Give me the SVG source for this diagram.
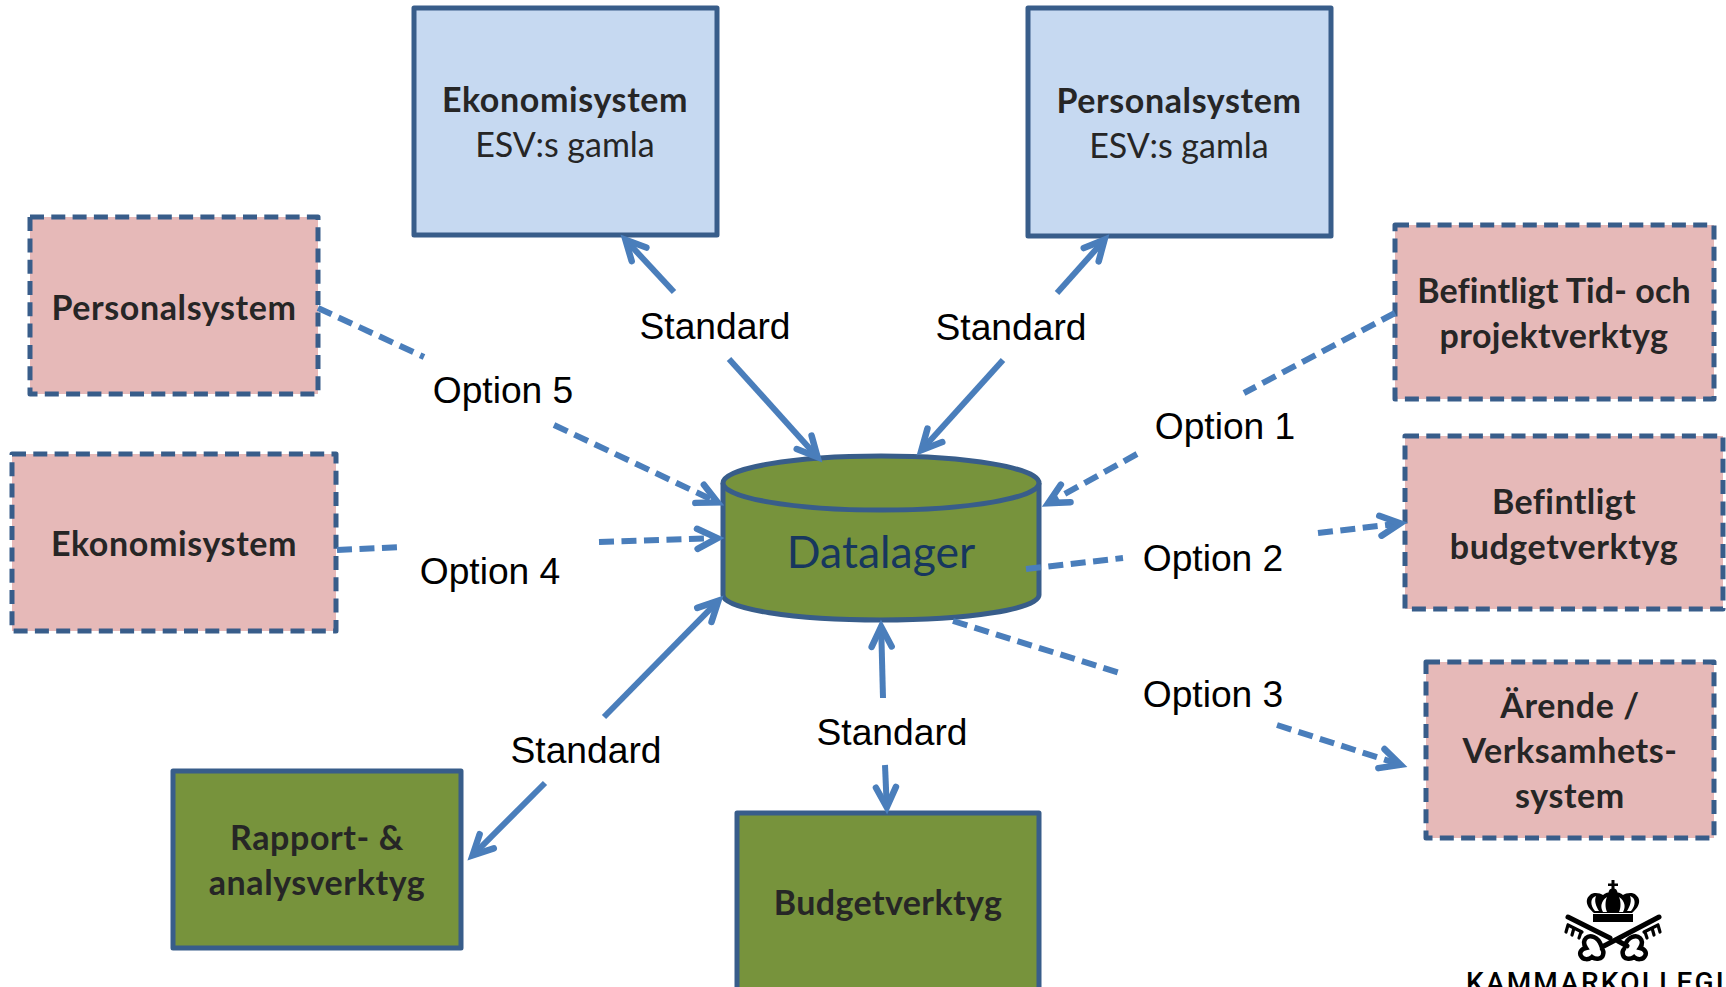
<svg xmlns="http://www.w3.org/2000/svg" width="1726" height="987" viewBox="0 0 1726 987">
<style>
.b{stroke:#385D8A;stroke-width:5;stroke-linejoin:round}
.blue{fill:#C6D9F1}.pink{fill:#E6B9B8}.green{fill:#77933C}
.d{stroke-dasharray:14 7.3}
.t{font-family:Lato,"Liberation Sans",sans-serif;font-size:34px;fill:#262626;text-anchor:middle}
.h{font-weight:700;letter-spacing:.6px}
.l{font-family:"Liberation Sans",Arial,sans-serif;font-size:37.2px;fill:#000;text-anchor:middle}
.c line{stroke:#4A7EBB;stroke-width:6;fill:none}
.c .a{marker-end:url(#m)}
.c .s{stroke-dasharray:15 7.5}
</style>
<defs>
<marker id="m" markerUnits="userSpaceOnUse" markerWidth="44" markerHeight="44" refX="21.7" refY="20" orient="auto"><path d="M4 10L24 20L4 30" fill="none" stroke="#4A7EBB" stroke-width="6.5" stroke-linecap="round" stroke-linejoin="miter"/></marker>
</defs>
<rect width="1726" height="987" fill="#fff"/>
<g id="n-ekonomi-esv"><rect class="b blue" x="414" y="8" width="303" height="227"/><text class="t h" x="565" y="111.500">Ekonomisystem</text><text class="t" x="565" y="156.500">ESV:s gamla</text></g>
<g id="n-personal-esv"><rect class="b blue" x="1028" y="8" width="303" height="228"/><text class="t h" x="1179" y="112.500">Personalsystem</text><text class="t" x="1179" y="157.500">ESV:s gamla</text></g>
<g id="n-personal"><rect class="b pink d" x="30" y="217" width="288" height="177"/><text class="t h" x="174" y="319.500">Personalsystem</text></g>
<g id="n-ekonomi"><rect class="b pink d" x="12" y="454" width="324" height="177"/><text class="t h" x="174" y="555.500">Ekonomisystem</text></g>
<g id="n-tid"><rect class="b pink d" x="1395" y="225" width="319" height="174"/><text class="t h" x="1554" y="302.500" style="letter-spacing:.1px">Befintligt Tid- och</text><text class="t h" x="1554" y="347.500" style="letter-spacing:.4px">projektverktyg</text></g>
<g id="n-budget"><rect class="b pink d" x="1405" y="436" width="318" height="173"/><text class="t h" x="1564" y="513.500" style="letter-spacing:.4px">Befintligt</text><text class="t h" x="1564" y="558.500">budgetverktyg</text></g>
<g id="n-arende"><rect class="b pink d" x="1426" y="662" width="288" height="176"/><text class="t h" x="1570" y="717.500">Ärende /</text><text class="t h" x="1570" y="762.500">Verksamhets-</text><text class="t h" x="1570" y="807.500">system</text></g>
<g id="n-rapport"><rect class="b green" x="173" y="771" width="288" height="177"/><text class="t h" x="317" y="849.500">Rapport- &amp;</text><text class="t h" x="317" y="894.500">analysverktyg</text></g>
<g id="n-budgetverktyg"><rect class="b green" x="737" y="813" width="302" height="190"/><text class="t h" x="888" y="914.500" style="letter-spacing:.4px">Budgetverktyg</text></g>
<g id="n-datalager">
<path class="b green" d="M723 483V595C723 609 794 620 881 620S1039 609 1039 595V483"/>
<ellipse class="b green" cx="881" cy="483" rx="158" ry="27"/>
<text x="881" y="568" style="font-family:Lato,'Liberation Sans',sans-serif;font-size:44.5px;fill:#17375E;text-anchor:middle">Datalager</text>
</g>
<g id="connectors" class="c">
<line class="a" x1="674" y1="292" x2="627" y2="241.4"/><line class="a" x1="729" y1="359" x2="816" y2="455.5"/>
<line class="a" x1="1057" y1="293" x2="1103" y2="241.5"/><line class="a" x1="1003" y1="360" x2="923" y2="448.5"/>
<line class="s" x1="318" y1="308" x2="424" y2="357"/><line class="a s" x1="554" y1="425" x2="715.6" y2="501.4"/>
<line class="s" x1="337" y1="550" x2="403" y2="547"/><line class="a s" x1="599" y1="542" x2="715" y2="538.2"/>
<line class="a" x1="604" y1="717" x2="716.8" y2="602.3"/><line class="a" x1="545" y1="783" x2="474.2" y2="853.8"/>
<line class="a" x1="883" y1="698" x2="881.2" y2="629"/><line class="a" x1="885" y1="765" x2="886.7" y2="805"/>
<line class="s" x1="1395" y1="313" x2="1244" y2="393"/><line class="a s" x1="1137" y1="454" x2="1050.2" y2="502"/>
<line class="s" x1="1026" y1="569" x2="1123" y2="558"/><line class="a s" x1="1318" y1="533" x2="1398" y2="523.7"/>
<line class="s" x1="953" y1="621" x2="1123" y2="674"/><line class="a s" x1="1277" y1="725" x2="1398.3" y2="764"/>
</g>
<g id="labels">
<text class="l" x="715" y="339">Standard</text>
<text class="l" x="1011" y="340">Standard</text>
<text class="l" x="503" y="403">Option 5</text>
<text class="l" x="490" y="584">Option 4</text>
<text class="l" x="586" y="763">Standard</text>
<text class="l" x="892" y="745">Standard</text>
<text class="l" x="1225" y="439">Option 1</text>
<text class="l" x="1213" y="571">Option 2</text>
<text class="l" x="1213" y="707">Option 3</text>
</g>
<g id="logo" fill="#000">
<path d="M1611.5 880h3v3.5h3.5v2.5h-3.5v2.500a4.500 4.500 0 1 1-3 0v-2.500h-3.500v-2.500h3.500z"/>
<path fill-rule="evenodd" d="M1613 892c-5 0-8 1-10 3-3-2-10-3-13 0-7 6-1 14 4 18h38c5-4 11-12 4-18-3-3-10-2-13 0-2-2-5-3-10-3zM1607 897c-2 4-2 11 0 15h-4c-3-5-2-11 4-15zM1619 897c2 4 2 11 0 15h4c3-5 2-11-4-15zM1596 896c-6 2-6 9-1 15h4c-3-5-5-10-3-15zM1630 896c6 2 6 9 1 15h-4c3-5 5-10 3-15z"/>
<rect x="1593" y="914" width="40" height="8"/>
<g fill="none" stroke="#000" stroke-linecap="round">
<path stroke-width="5" d="M1568 917L1610 938M1659 917L1602 947M1618 941L1627 946"/>
<path stroke-width="4.500" d="M1601 945C1598 937 1590 934 1586 938C1583 941 1584 945 1586 948C1581 949 1579 953 1581 956C1583 960 1589 960 1592 957C1596 960 1602 959 1603 955C1604 952 1603 950 1602 949"/>
<path stroke-width="4.500" d="M1625 945C1628 937 1636 934 1640 938C1643 941 1642 945 1640 948C1645 949 1647 953 1645 956C1643 960 1637 960 1634 957C1630 960 1624 959 1623 955C1622 952 1623 950 1624 949"/>
<path stroke-width="3.200" d="M1568 925L1566 932M1568 925L1582 932M1574 928L1572 935M1581 932L1579 938M1658 925L1660 932M1658 925L1644 932M1652 928L1654 935M1645 932L1647 938"/>
</g>
<text x="1466" y="992" style="font-family:Roboto,'Liberation Sans',sans-serif;font-weight:500;font-size:28px;letter-spacing:2.2px">KAMMARKOLLEGI</text>
</g>
</svg>
